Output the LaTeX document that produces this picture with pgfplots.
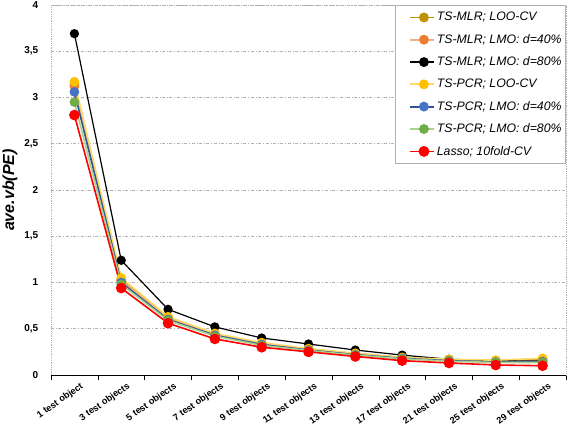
\documentclass[border=0pt]{standalone}
\usepackage{pgfplots}
\pgfplotsset{compat=1.18}
\usepackage{fontspec}
\setmainfont{Liberation Sans}
\setsansfont{Liberation Sans}
\definecolor{cgold}{HTML}{BF9000}
\definecolor{corange}{HTML}{ED7D31}
\definecolor{corangel}{HTML}{F4B183}
\definecolor{cyellow}{HTML}{FFC000}
\definecolor{cyellowl}{HTML}{FFD966}
\definecolor{cblue}{HTML}{4472C4}
\definecolor{cbluel}{HTML}{2F5597}
\definecolor{cgreen}{HTML}{70AD47}
\definecolor{cgreenl}{HTML}{A9D18E}
\begin{document}
\begin{tikzpicture}
\begin{axis}[
  scale only axis,
  width=515pt, height=370pt,
  xmin=-0.5, xmax=10.5,
  ymin=0, ymax=4,
  xtick={0,...,10},
  xticklabels={1 test object,3 test objects,5 test objects,7 test objects,9 test objects,11 test objects,13 test objects,17 test objects,21 test objects,25 test objects,29 test objects},
  x tick label style={rotate=35, anchor=north east, font=\bfseries\fontsize{9.2}{10}\selectfont, inner sep=1pt, xshift=4pt, yshift=-4pt},
  major x tick style={draw=none},
  minor xtick={-0.5,0.5,...,10.5},
  minor x tick style={black, thin},
  minor tick length=5pt,
  tick align=outside,
  xtick pos=bottom,
  ytick={0,0.5,...,4},
  ytick pos=left,
  major y tick style={draw=none},
  y tick label style={font=\bfseries\fontsize{10}{12}\selectfont, /pgf/number format/assume math mode=true, xshift=-5pt},
  /pgf/number format/use comma,
  ymajorgrids,
  major grid style={gray!60, dash dot, line width=0.8pt},
  axis line style={gray!60, densely dotted, line width=0.8pt},
  extra y ticks={0},
  extra y tick labels={},
  extra y tick style={grid=major, major grid style={black, solid, line width=0.9pt}},
  ylabel={\bfseries\itshape ave.vb(PE)},
  every axis y label/.style={at={(rel axis cs:0,0.5)}, anchor=center, rotate=90, yshift=41pt, font=\fontsize{16}{18}\selectfont},
  legend style={at={(1,1)}, anchor=north east, draw=gray!60, line width=0.8pt, fill=white,
    font=\itshape\fontsize{12.3}{14}\selectfont, row sep=8.0pt, inner xsep=2pt, inner ysep=5pt},
  legend cell align=left,
  legend image code/.code={\path (-12pt,0pt); \draw[mark repeat=2,mark phase=2,#1,line width=1.8pt] plot coordinates {(0pt,0pt)(14pt,0pt)(24pt,0pt)};},
]
\addplot[cgold, line width=1.6pt, mark=*, mark size=4pt, mark options={solid, fill=cgold, draw=cgold}]
 coordinates {(0,3.14)(1,1.03)(2,0.62)(3,0.44)(4,0.34)(5,0.28)(6,0.23)(7,0.19)(8,0.165)(9,0.155)(10,0.17)};
\addplot[corangel, line width=1.6pt, mark=*, mark size=4pt, mark options={solid, fill=corange, draw=corange}]
 coordinates {(0,3.12)(1,1.02)(2,0.61)(3,0.44)(4,0.34)(5,0.28)(6,0.23)(7,0.185)(8,0.16)(9,0.15)(10,0.16)};
\addplot[black, line width=1.2pt, mark=*, mark size=4pt, mark options={solid, fill=black, draw=black}]
 coordinates {(0,3.69)(1,1.24)(2,0.71)(3,0.52)(4,0.40)(5,0.335)(6,0.27)(7,0.215)(8,0.17)(9,0.155)(10,0.15)};
\addplot[cyellowl, line width=1.6pt, mark=*, mark size=4pt, mark options={solid, fill=cyellow, draw=cyellow}]
 coordinates {(0,3.17)(1,1.05)(2,0.63)(3,0.45)(4,0.35)(5,0.285)(6,0.235)(7,0.19)(8,0.17)(9,0.16)(10,0.18)};
\addplot[cbluel, line width=1.6pt, mark=*, mark size=4pt, mark options={solid, fill=cblue, draw=cblue}]
 coordinates {(0,3.06)(1,1.00)(2,0.60)(3,0.43)(4,0.33)(5,0.27)(6,0.22)(7,0.18)(8,0.155)(9,0.14)(10,0.145)};
\addplot[cgreenl, line width=1.6pt, mark=*, mark size=4pt, mark options={solid, fill=cgreen, draw=cgreen}]
 coordinates {(0,2.95)(1,0.98)(2,0.59)(3,0.42)(4,0.32)(5,0.265)(6,0.215)(7,0.175)(8,0.15)(9,0.135)(10,0.135)};
\addplot[red, line width=1.6pt, mark=*, mark size=4.5pt, mark options={solid, fill=red, draw=red}]
 coordinates {(0,2.81)(1,0.94)(2,0.56)(3,0.39)(4,0.30)(5,0.25)(6,0.20)(7,0.155)(8,0.13)(9,0.108)(10,0.10)};
\legend{TS-MLR; LOO-CV,TS-MLR; LMO: d=40\%,TS-MLR; LMO: d=80\%,TS-PCR; LOO-CV,TS-PCR; LMO: d=40\%,TS-PCR; LMO: d=80\%,Lasso; 10fold-CV}
\end{axis}
\pgfresetboundingbox
\path ([shift={(-51pt,-59pt)}]current axis.south west) rectangle ([shift={(2pt,5pt)}]current axis.north east);
\end{tikzpicture}
\end{document}
